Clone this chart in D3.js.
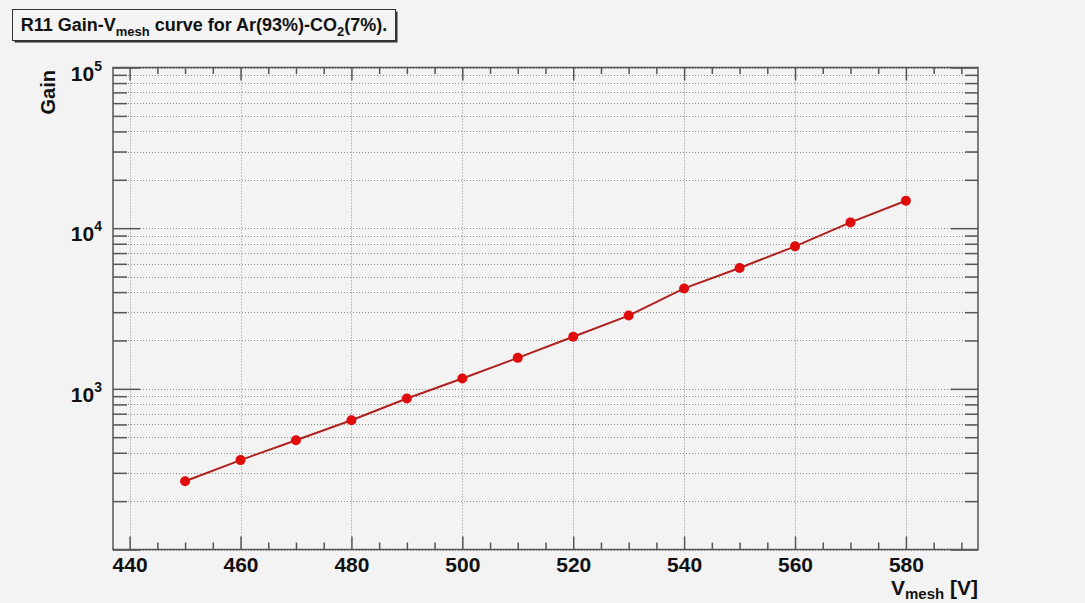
<!DOCTYPE html>
<html>
<head>
<meta charset="utf-8">
<script src="https://cdn.jsdelivr.net/npm/d3@7"></script>
<style>
  html, body { margin: 0; padding: 0; background: #f3f3f3; }
  svg { display: block; font-family: "Liberation Sans", Arial, Helvetica, sans-serif; font-weight: bold; }
</style>
</head>
<body>
<svg id="chart" width="1085" height="603"></svg>
<script>
// Mesh voltage settings [V]
const vmesh = [450, 460, 470, 480, 490, 500, 510, 520, 530, 540, 550, 560, 570, 580];
// Measured gas gain at each voltage
const gain = [266, 360, 479, 638, 870, 1159, 1559, 2109, 2857, 4217, 5655, 7705, 10865, 14817];
// Axis tick values
const xMajorTicks = [440, 460, 480, 500, 520, 540, 560, 580];
const xMinorTicks = d3.range(440, 593, 5).filter(v => v % 20 !== 0);
const yMajorTicks = [100, 1000, 10000, 100000];
const yMinorTicks = [2, 3, 4, 5, 6, 7, 8, 9].flatMap(m => [m * 100, m * 1000, m * 10000]);
const yLabelExponents = [3, 4, 5];

const svg = d3.select("#chart");
const W = 1085, H = 603;
const frame = { left: 113, right: 978, top: 67.5, bottom: 549.5 };

svg.append("rect").attr("width", W).attr("height", H).attr("fill", "#f3f3f3");

const x = d3.scaleLinear().domain([437, 593]).range([frame.left, frame.right]);
const y = d3.scaleLog().domain([100, 100000]).range([frame.bottom, frame.top]);

const plotW = frame.right - frame.left, plotH = frame.bottom - frame.top;

// Dotted grid
const grid = svg.append("g").attr("stroke", "#8a8a8a").attr("stroke-width", 1).attr("stroke-dasharray", "1,2");
grid.selectAll("line.h").data(yMajorTicks.concat(yMinorTicks)).join("line")
  .attr("class", "h")
  .attr("x1", frame.left).attr("x2", frame.right)
  .attr("y1", d => Math.round(y(d)) + 0.5).attr("y2", d => Math.round(y(d)) + 0.5);
grid.selectAll("line.v").data(xMajorTicks).join("line")
  .attr("class", "v")
  .attr("y1", frame.top).attr("y2", frame.bottom)
  .attr("x1", d => Math.round(x(d)) + 0.5).attr("x2", d => Math.round(x(d)) + 0.5);

// Axes (ticks point into the frame)
function styleAxis(g) {
  g.select(".domain").remove();
  g.selectAll(".tick line").attr("stroke", "#555").attr("stroke-width", 1.5);
}
svg.append("g").attr("transform", `translate(0,${frame.bottom})`)
  .call(d3.axisBottom(x).tickValues(xMinorTicks).tickSize(-7).tickFormat(""))
  .call(styleAxis);
svg.append("g").attr("transform", `translate(0,${frame.bottom})`)
  .call(d3.axisBottom(x).tickValues(xMajorTicks).tickSize(-13).tickPadding(8).tickFormat(d3.format("d")))
  .call(styleAxis)
  .call(g => g.selectAll("text").attr("fill", "#111").attr("font-size", 21).attr("font-weight", "bold").attr("font-family", "Liberation Sans, Arial, sans-serif"));
svg.append("g").attr("transform", `translate(0,${frame.top})`)
  .call(d3.axisTop(x).tickValues(xMinorTicks).tickSize(-6.5).tickFormat(""))
  .call(styleAxis);
svg.append("g").attr("transform", `translate(0,${frame.top})`)
  .call(d3.axisTop(x).tickValues(xMajorTicks).tickSize(-13).tickFormat(""))
  .call(styleAxis);
svg.append("g").attr("transform", `translate(${frame.left},0)`)
  .call(d3.axisLeft(y).tickValues(yMinorTicks).tickSize(-14).tickFormat(""))
  .call(styleAxis);
svg.append("g").attr("transform", `translate(${frame.left},0)`)
  .call(d3.axisLeft(y).tickValues(yMajorTicks).tickSize(-27).tickFormat(""))
  .call(styleAxis);
svg.append("g").attr("transform", `translate(${frame.right},0)`)
  .call(d3.axisRight(y).tickValues(yMinorTicks).tickSize(-13).tickFormat(""))
  .call(styleAxis);
svg.append("g").attr("transform", `translate(${frame.right},0)`)
  .call(d3.axisRight(y).tickValues(yMajorTicks).tickSize(-27).tickFormat(""))
  .call(styleAxis);

// Frame
svg.append("rect")
  .attr("x", frame.left).attr("y", frame.top).attr("width", plotW).attr("height", plotH)
  .attr("fill", "none").attr("stroke", "#555").attr("stroke-width", 1.5);

// Power-of-ten labels on the log axis
const yLab = svg.append("g").attr("fill", "#111");
yLabelExponents.forEach(e => {
  const t = yLab.append("text")
    .attr("x", 102).attr("y", y(Math.pow(10, e)) + 13)
    .attr("text-anchor", "end").attr("font-size", 21);
  t.append("tspan").text("10");
  t.append("tspan").attr("font-size", 14).attr("dy", -10).text(String(e));
});

// Axis titles
const xt = svg.append("text").attr("x", frame.right).attr("y", 595)
  .attr("text-anchor", "end").attr("font-size", 21).attr("fill", "#111");
xt.append("tspan").text("V");
xt.append("tspan").attr("font-size", 15).attr("dy", 4).text("mesh");
xt.append("tspan").attr("dy", -4).text(" [V]");

svg.append("text")
  .attr("transform", "translate(55,70) rotate(-90)")
  .attr("text-anchor", "end").attr("font-size", 20).attr("fill", "#111")
  .text("Gain");

// Gain curve
const pts = vmesh.map((v, i) => [v, gain[i]]);
svg.append("path").datum(pts)
  .attr("fill", "none").attr("stroke", "#b0201f").attr("stroke-width", 2)
  .attr("d", d3.line().x(d => x(d[0])).y(d => y(d[1])));
svg.append("g").selectAll("circle").data(pts).join("circle")
  .attr("cx", d => x(d[0])).attr("cy", d => y(d[1])).attr("r", 5)
  .attr("fill", "#e00c0c");

// Title box with drop shadow
const box = { x: 12.5, y: 9.5, w: 383, h: 31 };
const tb = svg.append("g");
tb.append("rect").attr("x", box.x + 2).attr("y", box.y + 2).attr("width", box.w).attr("height", box.h).attr("fill", "#333");
tb.append("rect").attr("x", box.x).attr("y", box.y).attr("width", box.w).attr("height", box.h)
  .attr("fill", "#f4f4f4").attr("stroke", "#333").attr("stroke-width", 1);
const tt = tb.append("text").attr("x", box.x + box.w / 2).attr("y", 31)
  .attr("text-anchor", "middle").attr("font-size", 18).attr("fill", "#111");
tt.append("tspan").text("R11 Gain-V");
tt.append("tspan").attr("font-size", 13).attr("dy", 5).text("mesh");
tt.append("tspan").attr("dy", -5).text(" curve for Ar(93%)-CO");
tt.append("tspan").attr("font-size", 13).attr("dy", 5).text("2");
tt.append("tspan").attr("dy", -5).text("(7%).");
</script>
</body>
</html>
